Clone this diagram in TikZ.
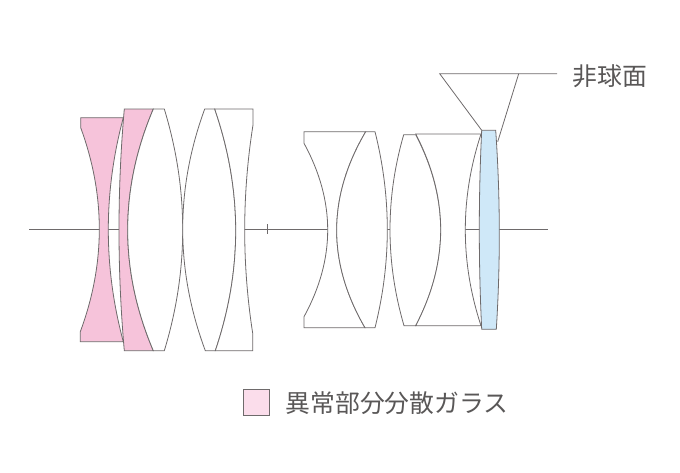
\documentclass[tikz,border=0pt]{standalone}
\usepackage{fontspec}
\newfontfamily\jpfont{Noto Sans CJK JP}
\definecolor{lensline}{HTML}{6E6A6B}
\definecolor{lenspink}{HTML}{F6C3DA}
\definecolor{lensblue}{HTML}{CFE8F8}
\definecolor{keypink}{HTML}{FBDDEB}
\definecolor{textgray}{HTML}{595757}
% bow: from the current point (#1,#2), bulging to x=#3 at mid height, to (#4,#5)
\def\bow#1#2#3#4#5{.. controls ({(4*(#3)-((#1)+(#4))/2)/3+((#1)-(#4))/6},{(#2)+((#5)-(#2))/3}) and ({(4*(#3)-((#1)+(#4))/2)/3-((#1)-(#4))/6},{(#2)+2*((#5)-(#2))/3}) .. (#4,#5)}
\tikzset{
  lens/.style={draw=lensline,line width=0.8pt,fill=white,line join=miter},
  pinklens/.style={lens,fill=lenspink},
  bluelens/.style={lens,fill=lensblue},
  thinline/.style={draw=lensline,line width=0.8pt},
  label/.style={font=\jpfont\fontsize{24.8}{27}\selectfont,text=textgray,inner sep=0pt}
}
\begin{document}
\begin{tikzpicture}[x=1pt,y=-1pt]
\useasboundingbox (0,0) rectangle (680,472);
% optical axis
\draw[thinline] (29,229) -- (548,229);
\draw[thinline] (267,224) -- (267,234);
% front group
\draw[pinklens] (80.7,117.7) -- (80.7,127.7) \bow{80.7}{127.7}{99.3}{80.3}{331.7} -- (80.3,341.7) -- (123.3,341.7) \bow{123.3}{341.7}{108.3}{123.3}{117.7} -- cycle;
\draw[pinklens] (124.3,109) -- (153.3,109) \bow{153.3}{109}{127.7}{153.3}{350.7} -- (124.3,350.7) \bow{124.3}{350.7}{119}{124.3}{109} -- cycle;
\draw[lens] (153.3,109) -- (164.3,109) \bow{164.3}{109}{182.7}{164.3}{350.7} -- (153.3,350.7) \bow{153.3}{350.7}{127.7}{153.3}{109} -- cycle;
\draw[lens] (204.7,109) -- (214.7,109) \bow{214.7}{109}{235.7}{215.3}{350.7} -- (205.3,350.7) \bow{205.3}{350.7}{182.7}{204.7}{109} -- cycle;
\draw[lens] (214.7,109) -- (253,109) -- (253,125) \bow{253}{125}{244.7}{252.7}{333.3} -- (252.7,350.7) -- (215.3,350.7) \bow{215.3}{350.7}{235.7}{214.7}{109} -- cycle;
% rear group
\draw[lens] (304,131.7) -- (304,143.3) \bow{304}{143.3}{327.7}{304}{316.7} -- (304,327.7) -- (365,327.7) \bow{365}{327.7}{336.7}{365.7}{131.7} -- cycle;
\draw[lens] (365.7,131.7) -- (375,131.7) \bow{375}{131.7}{387.3}{375}{327.7} -- (365,327.7) \bow{365}{327.7}{336.7}{365.7}{131.7} -- cycle;
\draw[lens] (403.7,134.7) -- (415.7,134.7) \bow{415.7}{134.7}{440.7}{415.7}{325.7} -- (404,325.7) \bow{404}{325.7}{390}{403.7}{134.7} -- cycle;
\draw[lens] (415.7,134) -- (481,134) \bow{481}{134}{465.3}{481}{325.7} -- (415.7,325.7) \bow{415.7}{325.7}{440.7}{415.7}{134} -- cycle;
\draw[bluelens] (481.7,130.3) -- (495.7,130.3) \bow{495.7}{130.3}{499.3}{496.3}{329.3} -- (481.7,329.3) \bow{481.7}{329.3}{479.3}{481.7}{130.3} -- cycle;
% aspheric callout
\coordinate (calloutA) at (481.7,130.3);
\coordinate (calloutB) at (497.7,141.7);
\coordinate (calloutC) at (439.7,73.7);
\coordinate (calloutD) at (518.7,73.7);
\coordinate (calloutE) at (557,73.7);
\draw[thinline] (calloutA) -- (calloutC) -- (calloutE);
\draw[thinline] (calloutD) -- (calloutB);
\node[label,anchor=center] (asph) at (610,76) {非球面};
% legend
\node[draw=lensline,line width=0.8pt,fill=keypink,minimum width=26pt,minimum height=26pt,inner sep=0pt] (key) at (256.5,402) {};
\node[label,anchor=center] (keytext) at (397,403) {異常部分分散ガラス};
\end{tikzpicture}
\end{document}
